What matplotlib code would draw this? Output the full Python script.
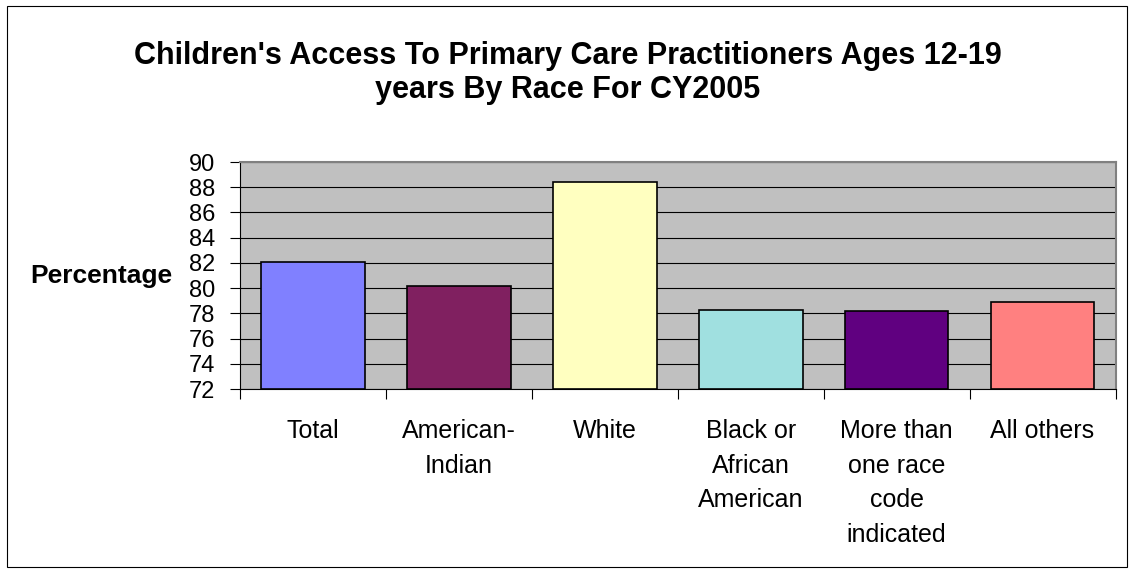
import matplotlib
matplotlib.use("Agg")
import matplotlib.pyplot as plt
from matplotlib.patches import Rectangle

plt.rcParams["font.family"] = ["Liberation Sans", "DejaVu Sans"]

categories = ["Total", "American-\nIndian", "White", "Black or\nAfrican\nAmerican",
              "More than\none race\ncode\nindicated", "All others"]
values = [82.1, 80.2, 88.4, 78.3, 78.2, 78.9]
colors = ["#8080FF", "#802060", "#FFFFC0", "#A0E0E0", "#600080", "#FF8080"]
y_ticks = list(range(72, 91, 2))

W, H, DPI = 1133, 573, 100
fig = plt.figure(figsize=(W / DPI, H / DPI), dpi=DPI)
fig.patch.set_facecolor("white")

# outer chart border
fig.add_artist(Rectangle((7 / W, 6 / H), 1120 / W, 561 / H, transform=fig.transFigure,
                         fill=False, edgecolor="black", linewidth=0.8))

left, right, top, bottom = 240, 1115.5, 162, 389
ax = fig.add_axes([left / W, 1 - bottom / H, (right - left) / W, (bottom - top) / H])
ax.set_facecolor("#C0C0C0")

x = range(len(categories))
ax.bar(x, [v - 72 for v in values], bottom=72, width=0.71, color=colors,
       edgecolor="black", linewidth=1.2, zorder=3)

ax.set_xlim(-0.5, len(categories) - 0.5)
ax.set_ylim(72, 90)
ax.set_yticks(y_ticks)
ax.set_yticklabels([str(t) for t in y_ticks], fontsize=17)
ax.yaxis.grid(True, color="black", linewidth=0.8, zorder=1)
ax.set_axisbelow(True)

ax.set_xticks([i + 0.5 for i in range(-1, len(categories))])
ax.set_xticklabels([])
ax.tick_params(axis="x", length=7, width=0.8, direction="out")
ax.tick_params(axis="y", length=7, width=0.8, direction="out", pad=11)
for i, lab in enumerate(categories):
    ax.text(i, 69.6, lab, ha="center", va="top", fontsize=18, linespacing=1.55)

for side in ["top", "right"]:
    ax.spines[side].set_color("#808080")
    ax.spines[side].set_linewidth(1.5)
for side in ["left", "bottom"]:
    ax.spines[side].set_color("black")
    ax.spines[side].set_linewidth(0.8)

fig.text(172 / W, 1 - 276 / H, "Percentage", fontsize=19, fontweight="bold",
         ha="right", va="center")

fig.text(0.5 + 1 / W, 1 - 73 / H,
         "Children's Access To Primary Care Practitioners Ages 12-19\nyears By Race For CY2005",
         ha="center", va="center", fontsize=22, fontweight="bold", linespacing=1.2)

fig.savefig("out.png", dpi=DPI, facecolor="white")
